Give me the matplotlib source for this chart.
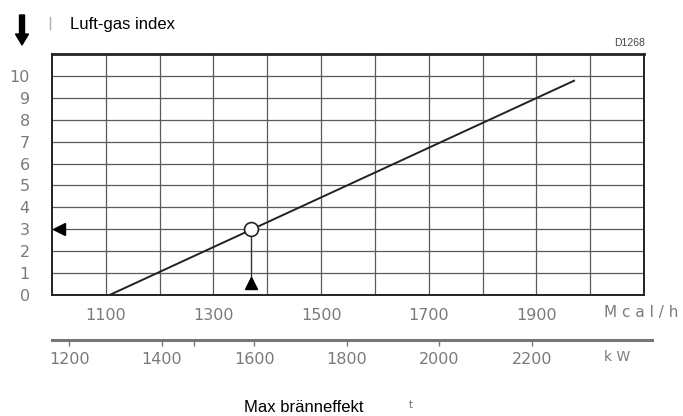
import matplotlib.pyplot as plt
import numpy as np
from matplotlib.patches import FancyArrow
from matplotlib.transforms import IdentityTransform

# Data
mcal_ticks = [1100, 1300, 1500, 1700, 1900]
kw_ticks = [1200, 1400, 1600, 1800, 2000, 2200]
kw_minor = [1470]
index_ticks = list(range(0, 11))
line_mcal = [1107, 1970]
line_index = [0.0, 9.78]
point_mcal = 1370
point_index = 3
mcal_per_kw = 0.86

W, H = 683, 416
fig = plt.figure(figsize=(W / 100, H / 100), dpi=100)

def fx(px):
    return px / W

def fy(py):
    return 1 - py / H

# Main chart ------------------------------------------------------------------
left, right, top, bottom = 52, 644, 54, 295
ax = fig.add_axes([fx(left), fy(bottom), fx(right - left), (bottom - top) / H])
ax.set_xlim(1000, 2100)
ax.set_ylim(0, 11)
ax.set_xticks(mcal_ticks)
ax.set_yticks(index_ticks)
ax.set_xticks(np.arange(1200, 2100, 200), minor=True)
ax.grid(which='both', color='#5a5a5a', lw=0.9)
ax.tick_params(which='both', length=0)
ax.tick_params(axis='x', pad=9, labelsize=11.5, labelcolor='#7a7a7a')
ax.tick_params(axis='y', pad=16, labelsize=11.5, labelcolor='#7a7a7a')
for s in ax.spines.values():
    s.set_linewidth(1.4)
    s.set_color('#222222')
ax.spines['top'].set_linewidth(2.0)

ax.plot(line_mcal, line_index, color='#222222', lw=1.4, zorder=3)
ax.plot([point_mcal, point_mcal], [0.55, point_index], color='#333333', lw=1.0, zorder=3)
ax.plot(point_mcal, point_index, 'o', ms=10, mfc='white', mec='#222222', mew=1.2, zorder=4)
ax.plot(point_mcal, 0.55, '^', ms=8, color='black', zorder=4, clip_on=False)
ax.plot(1013, point_index, '<', ms=8, color='black', zorder=4, clip_on=False)

# kW scale ------------------------------------------------------------------
kw_left, kw_right, kw_y = 52, 652, 340
px_per_mcal = (right - left) / 1100
ax2 = fig.add_axes([fx(kw_left), fy(kw_y), fx(kw_right - kw_left), 0.001])
ax2.set_xlim(1000 / mcal_per_kw, (1000 + (kw_right - kw_left) / px_per_mcal) / mcal_per_kw)
ax2.set_xticks(kw_ticks)
ax2.set_xticks(kw_minor, minor=True)
ax2.set_yticks([])
for s in ['top', 'left', 'right']:
    ax2.spines[s].set_visible(False)
ax2.spines['bottom'].set_linewidth(2.2)
ax2.spines['bottom'].set_color('#777777')
ax2.tick_params(axis='x', which='both', length=4, width=1, color='#777777',
                pad=5, labelsize=11.5, labelcolor='#7a7a7a')
ax2.patch.set_visible(False)

# Texts ----------------------------------------------------------------------
fig.text(fx(70), fy(25), 'Luft-gas index', fontsize=12, family='Liberation Sans',
         va='center', ha='left', color='black')
fig.text(fx(304), fy(408), 'Max bränneffekt', fontsize=12, family='Liberation Sans',
         va='center', ha='center', color='black')
fig.text(fx(645), fy(43), 'D1268', fontsize=7.5, family='Liberation Sans',
         va='center', ha='right', color='#444444')
fig.text(fx(604), fy(313), 'M c a l / h', fontsize=11, va='center', ha='left', color='#7a7a7a')
fig.text(fx(604), fy(357), 'k W', fontsize=10, va='center', ha='left', color='#7a7a7a')
fig.text(fx(411), fy(405), 't', fontsize=7, va='center', ha='center', color='#666666')
fig.add_artist(plt.Line2D([fx(50), fx(50)], [fy(17), fy(29)], color='#aaaaaa', lw=1))

# Down arrow in the corner
fig.add_artist(FancyArrow(22, H - 15, 0, -30, width=5, head_width=13, head_length=11,
                          length_includes_head=True, color='black',
                          transform=IdentityTransform()))

fig.savefig('out.png', dpi=100)
